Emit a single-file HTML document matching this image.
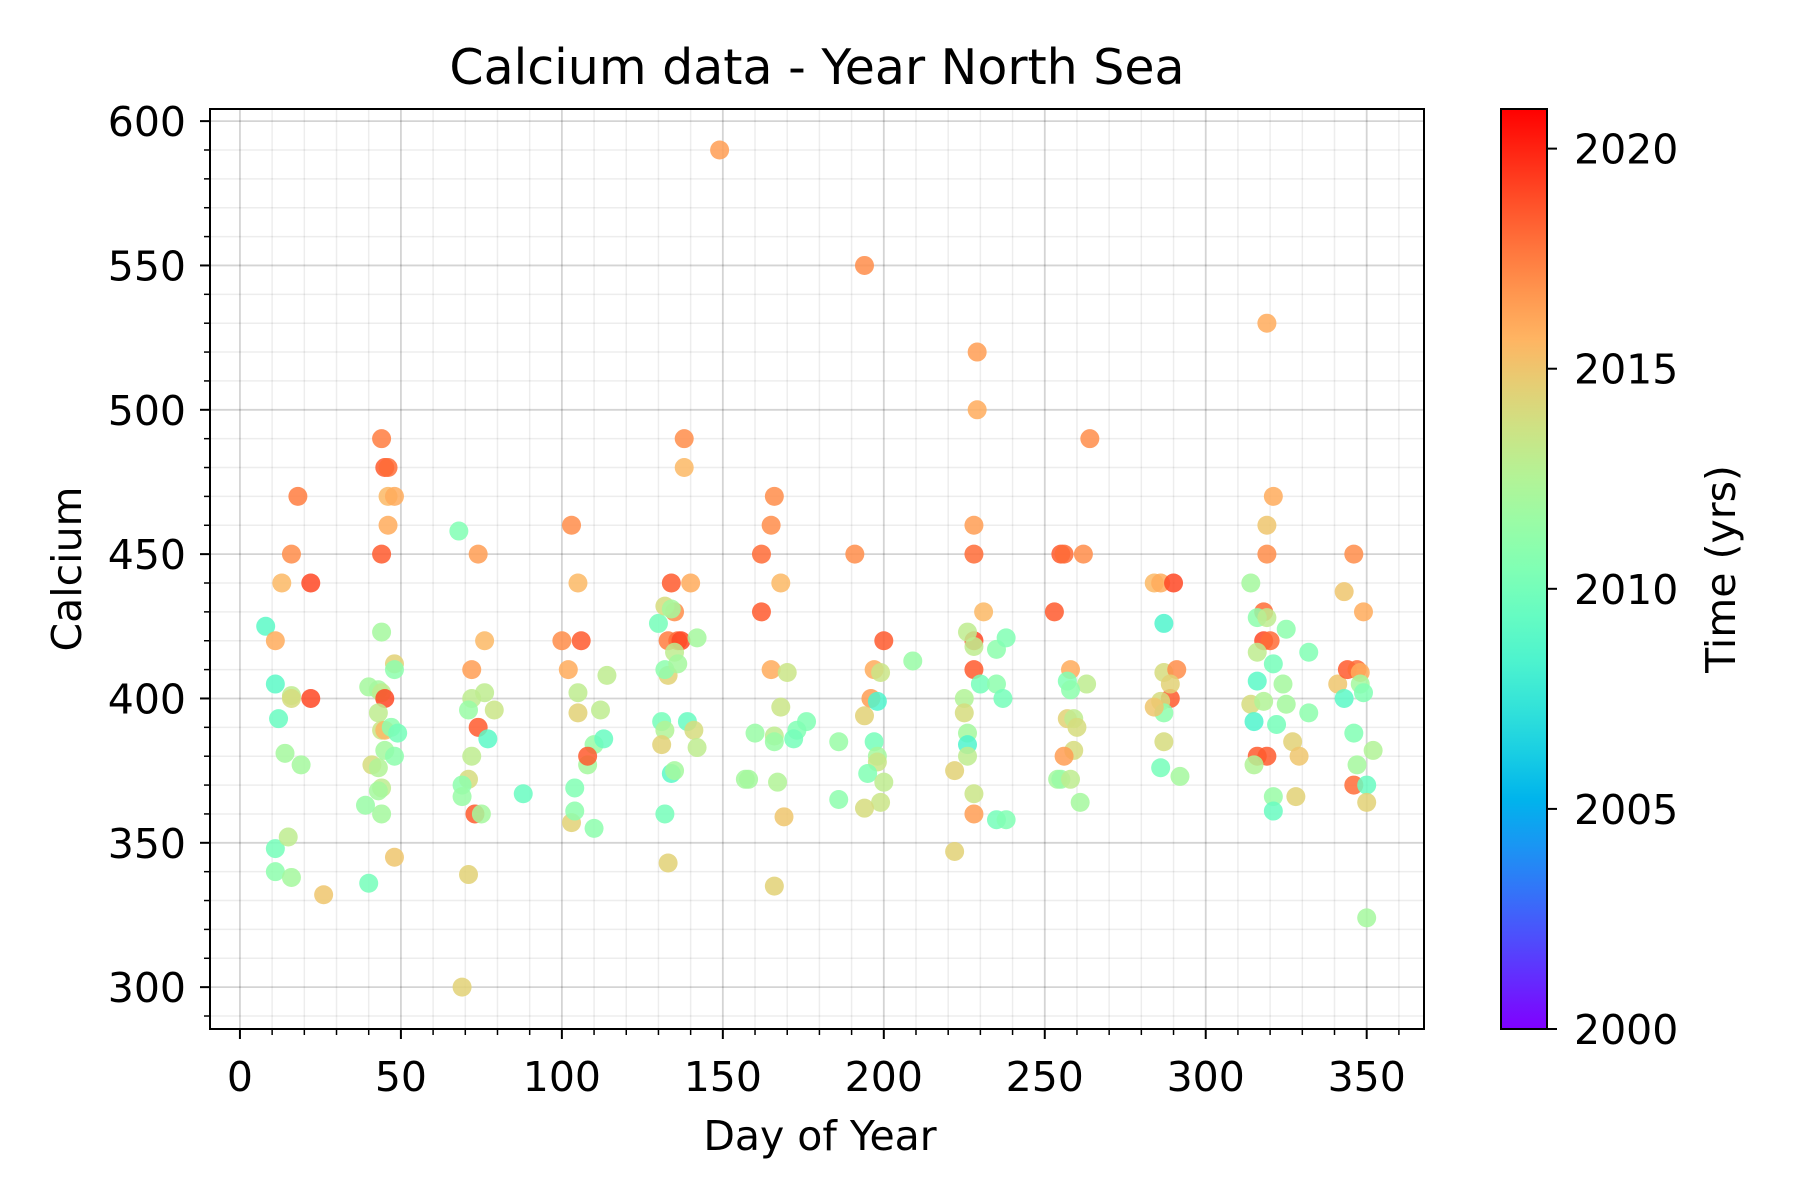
<!DOCTYPE html>
<html><head><meta charset="utf-8"><style>
body{margin:0;background:#fff}
svg{display:block;font-family:"DejaVu Sans","Liberation Sans",sans-serif}
</style></head><body>
<svg id="chart" width="1800" height="1200" viewBox="0 0 1800 1200" xmlns="http://www.w3.org/2000/svg">
<defs>
<linearGradient id="rb" x1="0" y1="1" x2="0" y2="0"></linearGradient>
<clipPath id="clip"><rect x="210" y="109" width="1214" height="920"/></clipPath>
</defs>
<text x="817" y="84" font-size="49" text-anchor="middle">Calcium data - Year North Sea</text>
<g id="grid"></g>
<g id="pts" clip-path="url(#clip)"></g>
<rect x="210" y="109" width="1214" height="920" fill="none" stroke="#000" stroke-width="2"/>
<g id="axes"></g>
<text x="820" y="1150" font-size="41" text-anchor="middle">Day of Year</text>
<text x="0" y="0" font-size="41" text-anchor="middle" transform="translate(81,569) rotate(-90)">Calcium</text>
<g id="cbar"></g>
<text x="0" y="0" font-size="41" text-anchor="middle" transform="translate(1735,569) rotate(-90)">Time (yrs)</text>
</svg>
<script>
const days=[8,11,11,12,13,16,18,22,22,16,16,14,19,11,11,15,16,26,
44,45,46,46,48,46,44,44,40,43,44,45,48,48,43,44,45,47,49,41,43,45,48,44,43,44,39,40,48,
68,74,76,72,72,76,71,79,74,77,72,71,69,69,73,75,71,69,88,
103,105,100,106,102,105,105,112,114,110,113,104,108,108,103,104,110,
149,138,138,140,134,135,130,132,134,133,136,137,142,135,133,132,136,131,139,141,132,142,131,134,135,132,133,
162,166,165,162,168,165,170,168,160,166,166,157,158,167,169,166,173,172,176,186,186,191,194,197,196,194,198,197,198,198,195,200,199,194,200,209,199,
229,229,228,228,231,228,226,228,228,230,235,225,225,226,226,226,222,228,228,222,235,238,237,235,238,
253,255,256,262,264,258,257,263,258,257,259,260,259,256,254,255,258,261,
284,286,290,287,291,289,286,287,284,287,289,287,286,292,
319,321,319,319,314,318,316,319,318,320,325,316,321,332,316,324,314,318,325,315,322,327,329,316,319,315,321,328,321,332,
346,349,343,341,344,347,348,348,349,343,346,352,347,346,350,350,350];
const calcium=[425,420,405,393,440,450,470,440,400,401,400,381,377,348,340,352,338,332,
490,480,480,470,470,460,450,423,404,403,402,400,412,410,395,389,389,390,388,377,376,382,380,369,368,360,363,336,345,
458,450,420,410,400,402,396,396,390,386,380,372,370,366,360,360,339,300,367,
460,440,420,420,410,402,395,396,408,384,386,369,377,380,357,361,355,
590,490,480,440,440,430,426,432,431,420,420,420,421,416,408,410,412,392,392,389,389,383,384,374,375,360,343,
450,470,460,430,440,410,409,397,388,387,385,372,372,371,359,335,389,386,392,385,365,450,550,410,400,394,399,385,380,378,374,371,364,362,420,413,409,
520,500,460,450,430,420,423,418,410,405,405,400,395,388,384,380,375,367,360,347,358,358,400,417,421,
430,450,450,450,490,410,406,405,403,393,393,390,382,380,372,372,372,364,
440,440,440,409,410,400,399,395,397,426,405,385,376,373,
530,470,460,450,440,430,428,428,420,420,424,416,412,416,406,405,398,399,398,392,391,385,380,380,380,377,366,366,361,395,
450,430,437,405,410,410,409,405,402,400,388,382,377,370,370,364,324];
const years=[2009,2016,2009,2009.5,2015.5,2017,2017.5,2019,2019,2013,2014,2012,2012,2010,2011,2013,2012,2015,
2017.5,2018.5,2018,2015.5,2016,2016,2018.5,2012,2012,2012,2013,2019,2014.5,2011,2013,2013.5,2015.5,2011,2010,2014,2012.5,2012,2011,2013,2012,2012,2011.5,2010,2015,
2010.5,2016.5,2015.5,2016.5,2013,2013,2011.5,2013.5,2018.5,2009,2013,2014,2011,2011.5,2018.5,2012,2014.5,2014.5,2009.5,
2017,2015.5,2017,2018.5,2016,2013,2014.5,2013,2013,2011.5,2009.5,2010.5,2012,2018.5,2014.5,2011,2011,
2016.5,2017,2015.5,2016,2018.5,2017,2010,2014,2012,2017.5,2018,2019,2012,2013,2014.5,2011,2012,2010,2009.5,2014,2012.5,2013,2014.5,2009,2012,2010,2014.5,
2018,2017,2017,2018.5,2015.5,2016,2013.5,2013.5,2011.5,2013,2011.5,2012,2012,2012.5,2015,2014.5,2010.5,2010,2010.5,2011.5,2011,2017,2017,2016,2016.5,2014.5,2008.5,2010,2012,2013.5,2010.5,2013,2013.5,2014,2018.5,2011.5,2013.5,
2016.5,2016,2016.5,2018,2015.5,2019,2013,2013,2018.5,2010,2011,2012.5,2014,2012,2008.5,2013,2014.5,2013.5,2016.5,2014.5,2010,2010.5,2010,2011,2010.5,
2018.5,2018.5,2018,2017,2017,2016,2010.5,2013,2011,2014.5,2013,2014,2014,2016.5,2012,2011.5,2013,2012,
2015.5,2016,2019,2014,2017,2018.5,2014,2011,2015,2008.5,2014.5,2014,2010,2012,
2016,2016,2015,2017,2012,2018,2011,2013,2019,2018,2011,2013,2010,2010.5,2009,2012,2014,2012.5,2012,2008.5,2010,2014.5,2015,2018.5,2018.5,2012.5,2011.5,2014.5,2009.5,2011,
2017,2016,2015,2015,2018.5,2018,2016,2012,2010.5,2009,2010.5,2012.5,2012,2018,2009.5,2014.5,2012];
const xTicks=[0,50,100,150,200,250,300,350];
const yTicks=[300,350,400,450,500,550,600];
const cTicks=[2000,2005,2010,2015,2020];

const L=210,R=1424,T=109,B=1029, XMIN=-9.3,XMAX=367.8,YMIN=285.5,YMAX=604.2,CMIN=2000,CMAX=2020.9;
const sx=v=>L+(v-XMIN)/(XMAX-XMIN)*(R-L);
const sy=v=>B-(v-YMIN)/(YMAX-YMIN)*(B-T);
const cy=v=>B-(v-CMIN)/(CMAX-CMIN)*(B-T);
function rainbow(t){t=Math.max(0,Math.min(1,t));
 const r=Math.min(1,Math.abs(2*t-0.5)),g=Math.sin(Math.PI*t),b=Math.cos(Math.PI*t/2);
 return `rgb(${Math.round(r*255)},${Math.round(g*255)},${Math.round(b*255)})`;}
const NS="http://www.w3.org/2000/svg";
function mk(tag,attrs,parent){const e=document.createElementNS(NS,tag);for(const k in attrs)e.setAttribute(k,attrs[k]);parent.appendChild(e);return e;}
const grid=document.getElementById('grid'),axes=document.getElementById('axes'),pts=document.getElementById('pts'),cbar=document.getElementById('cbar');
for(let v=-0;v<=360;v+=10){if(v%50===0)continue;const x=sx(v);const l=mk('line',{x1:x,x2:x,y1:T,y2:B,stroke:'#000','stroke-opacity':0.07,'stroke-width':1.5},grid);

const t=mk('line',{x1:x,x2:x,y1:B,y2:B+6,stroke:'#000','stroke-width':1.5},axes);
}
for(let v=290;v<=600;v+=10){if(v%50===0)continue;const y=sy(v);const l=mk('line',{x1:L,x2:R,y1:y,y2:y,stroke:'#000','stroke-opacity':0.07,'stroke-width':1.5},grid);

const t=mk('line',{x1:L-6,x2:L,y1:y,y2:y,stroke:'#000','stroke-width':1.5},axes);
}
xTicks.forEach(v=>{const x=sx(v);
 const g=mk('line',{x1:x,x2:x,y1:T,y2:B,stroke:'#000','stroke-opacity':0.17,'stroke-width':1.8},grid);
 
 const t=mk('line',{x1:x,x2:x,y1:B,y2:B+10,stroke:'#000','stroke-width':2},axes);
 
 const tx=mk('text',{x:x,y:B+62,'font-size':41,'text-anchor':'middle'},axes);tx.textContent=v;
 });
yTicks.forEach(v=>{const y=sy(v);
 const g=mk('line',{x1:L,x2:R,y1:y,y2:y,stroke:'#000','stroke-opacity':0.17,'stroke-width':1.8},grid);
 
 const t=mk('line',{x1:L-10,x2:L,y1:y,y2:y,stroke:'#000','stroke-width':2},axes);
 
 const tx=mk('text',{x:L-24,y:y+15,'font-size':41,'text-anchor':'end'},axes);tx.textContent=v;
 });
days.forEach((d,i)=>{const c=mk('circle',{cx:sx(d),cy:sy(calcium[i]),r:9.5,fill:rainbow((years[i]-CMIN)/(CMAX-CMIN)),'fill-opacity':0.85},pts);
 });
const grad=document.getElementById('rb');
for(let i=0;i<=20;i++){mk('stop',{offset:i/20,'stop-color':rainbow(i/20)},grad);}
const cb=mk('rect',{x:1501,y:T,width:46,height:B-T,fill:'url(#rb)',stroke:'#000','stroke-width':2},cbar);

cTicks.forEach(v=>{const y=cy(v);
 const t=mk('line',{x1:1547,x2:1557,y1:y,y2:y,stroke:'#000','stroke-width':2},cbar);
 
 const tx=mk('text',{x:1574,y:y+15,'font-size':41},cbar);tx.textContent=v;
 });
</script>
</body></html>
